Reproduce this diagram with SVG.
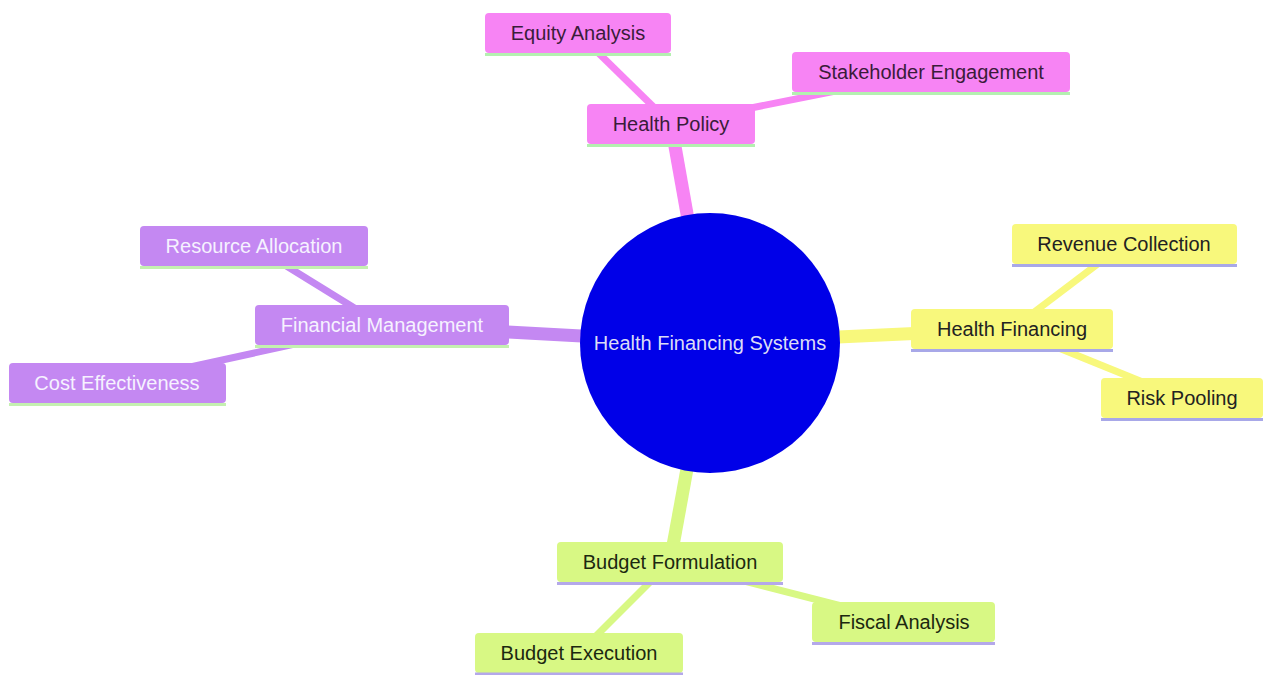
<svg xmlns="http://www.w3.org/2000/svg" width="1264" height="675" viewBox="0 0 1264 675">
<style>
text{font-family:"Liberation Sans",Arial,sans-serif;font-size:20px;text-anchor:middle;dominant-baseline:central}
.e1{stroke-width:13;stroke-linecap:butt;fill:none}
.e2{stroke-width:7;stroke-linecap:butt;fill:none}
.pk{fill:#f784f4}.pkS{stroke:#f784f4}.pkL{stroke:#b4f0b0}.pkT{fill:#3a1c3a}
.pu{fill:#c488f2}.puS{stroke:#c488f2}.puL{stroke:#c4f0b0}.puT{fill:#f6f2ff}
.ye{fill:#f8f87c}.yeS{stroke:#f8f87c}.yeL{stroke:#a8a8e8}.yeT{fill:#222222}
.gr{fill:#d8f884}.grS{stroke:#d8f884}.grL{stroke:#b4a8ea}.grT{fill:#1c2810}
.ln{stroke-width:3;fill:none}
</style>
<rect width="1264" height="675" fill="#ffffff"/>
<g id="connectors">
<line class="e1 pkS" x1="710" y1="343" x2="671" y2="124"/>
<line class="e1 puS" x1="710" y1="343" x2="382" y2="325"/>
<line class="e1 yeS" x1="710" y1="343" x2="1012" y2="329"/>
<line class="e1 grS" x1="710" y1="343" x2="670" y2="562"/>
<line class="e2 pkS" x1="671" y1="124" x2="578" y2="33"/>
<line class="e2 pkS" x1="671" y1="124" x2="931" y2="72"/>
<line class="e2 puS" x1="382" y1="325" x2="254" y2="246"/>
<line class="e2 puS" x1="382" y1="325" x2="117" y2="383"/>
<line class="e2 yeS" x1="1012" y1="329" x2="1124" y2="244"/>
<line class="e2 yeS" x1="1012" y1="329" x2="1182" y2="398"/>
<line class="e2 grS" x1="670" y1="562" x2="579" y2="653"/>
<line class="e2 grS" x1="670" y1="562" x2="904" y2="622"/>
</g>
<g id="root">
<circle cx="710" cy="343" r="130" fill="#0000e8"/>
<text x="710" y="343" fill="#dcdcf6">Health Financing Systems</text>
</g>
<g id="health-policy">
<rect class="pk" x="587" y="104" width="168" height="40" rx="4"/>
<line class="ln pkL" x1="587" y1="145.5" x2="755" y2="145.5"/>
<text class="pkT" x="671" y="124">Health Policy</text>
</g>
<g id="equity-analysis">
<rect class="pk" x="485" y="13" width="186" height="40" rx="4"/>
<line class="ln pkL" x1="485" y1="54.5" x2="671" y2="54.5"/>
<text class="pkT" x="578" y="33">Equity Analysis</text>
</g>
<g id="stakeholder-engagement">
<rect class="pk" x="792" y="52" width="278" height="40" rx="4"/>
<line class="ln pkL" x1="792" y1="93.5" x2="1070" y2="93.5"/>
<text class="pkT" x="931" y="72">Stakeholder Engagement</text>
</g>
<g id="financial-management">
<rect class="pu" x="255" y="305" width="254" height="40" rx="4"/>
<line class="ln puL" x1="255" y1="346.5" x2="509" y2="346.5"/>
<text class="puT" x="382" y="325">Financial Management</text>
</g>
<g id="resource-allocation">
<rect class="pu" x="140" y="226" width="228" height="40" rx="4"/>
<line class="ln puL" x1="140" y1="267.5" x2="368" y2="267.5"/>
<text class="puT" x="254" y="246">Resource Allocation</text>
</g>
<g id="cost-effectiveness">
<rect class="pu" x="9" y="363" width="217" height="40" rx="4"/>
<line class="ln puL" x1="9" y1="404.5" x2="226" y2="404.5"/>
<text class="puT" x="117" y="383">Cost Effectiveness</text>
</g>
<g id="health-financing">
<rect class="ye" x="911" y="309" width="202" height="40" rx="4"/>
<line class="ln yeL" x1="911" y1="350.5" x2="1113" y2="350.5"/>
<text class="yeT" x="1012" y="329">Health Financing</text>
</g>
<g id="revenue-collection">
<rect class="ye" x="1012" y="224" width="225" height="40" rx="4"/>
<line class="ln yeL" x1="1012" y1="265.5" x2="1237" y2="265.5"/>
<text class="yeT" x="1124" y="244">Revenue Collection</text>
</g>
<g id="risk-pooling">
<rect class="ye" x="1101" y="378" width="162" height="40" rx="4"/>
<line class="ln yeL" x1="1101" y1="419.5" x2="1263" y2="419.5"/>
<text class="yeT" x="1182" y="398">Risk Pooling</text>
</g>
<g id="budget-formulation">
<rect class="gr" x="557" y="542" width="226" height="40" rx="4"/>
<line class="ln grL" x1="557" y1="583.5" x2="783" y2="583.5"/>
<text class="grT" x="670" y="562">Budget Formulation</text>
</g>
<g id="fiscal-analysis">
<rect class="gr" x="812" y="602" width="183" height="40" rx="4"/>
<line class="ln grL" x1="812" y1="643.5" x2="995" y2="643.5"/>
<text class="grT" x="904" y="622">Fiscal Analysis</text>
</g>
<g id="budget-execution">
<rect class="gr" x="475" y="633" width="208" height="40" rx="4"/>
<line class="ln grL" x1="475" y1="674" x2="683" y2="674"/>
<text class="grT" x="579" y="653">Budget Execution</text>
</g>
</svg>
